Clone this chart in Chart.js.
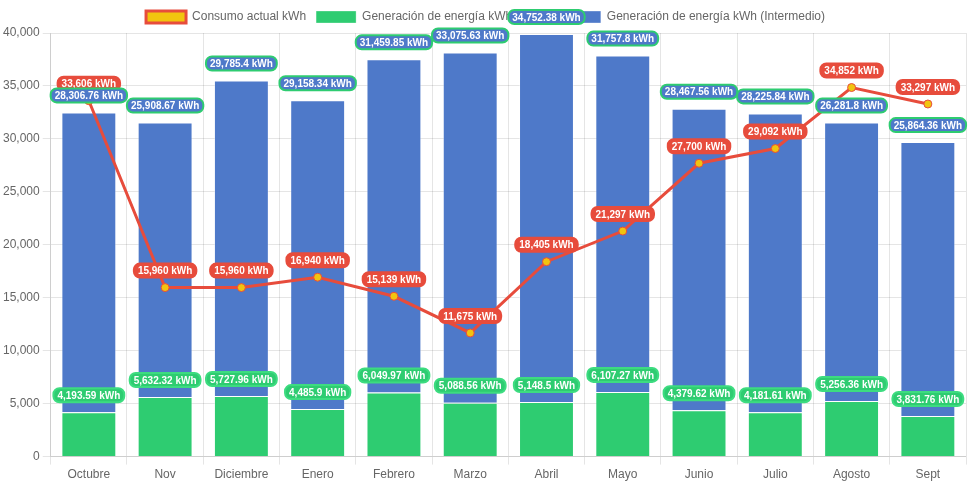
<!DOCTYPE html>
<html lang="es">
<head>
<meta charset="UTF-8">
<title>Consumo y generación de energía</title>
<script src="https://cdn.jsdelivr.net/npm/chart.js@4.4.1/dist/chart.umd.min.js"></script>
<style>
    html, body { margin: 0; padding: 0; background: #ffffff; }
    #contenedor { width: 971px; height: 485px; }
</style>
</head>
<body>
<div id="contenedor"><canvas id="energiaChart"></canvas></div>
<script>
// Datos del gráfico
const meses = ['Octubre', 'Nov', 'Diciembre', 'Enero', 'Febrero', 'Marzo', 'Abril', 'Mayo', 'Junio', 'Julio', 'Agosto', 'Sept'];
const consumoActual = [33606, 15960, 15960, 16940, 15139, 11675, 18405, 21297, 27700, 29092, 34852, 33297];
const generacion = [4193.59, 5632.32, 5727.96, 4485.9, 6049.97, 5088.56, 5148.5, 6107.27, 4379.62, 4181.61, 5256.36, 3831.76];
const generacionIntermedio = [28306.76, 25908.67, 29785.4, 29158.34, 31459.85, 33075.63, 34752.38, 31757.8, 28467.56, 28225.84, 26281.8, 25864.36];

const ROJO = '#e74c3c';
const AMARILLO = '#f1c40f';
const VERDE = '#2ecc71';
const AZUL = '#4e79c9';

const formato = v => v.toLocaleString('en-US', { maximumFractionDigits: 2 }) + ' kWh';

// Etiquetas con fondo redondeado encima de cada valor
const etiquetas = {
    id: 'etiquetas',
    afterDatasetsDraw(chart) {
        const ctx = chart.ctx;
        ctx.save();
        ctx.font = 'bold 10px "Helvetica Neue", Helvetica, Arial, sans-serif';
        ctx.textAlign = 'center';
        ctx.textBaseline = 'middle';
        chart.data.datasets.forEach((ds, i) => {
            const meta = chart.getDatasetMeta(i);
            if (meta.hidden) return;
            meta.data.forEach((el, j) => {
                const texto = formato(ds.data[j]);
                const w = ctx.measureText(texto).width + 8;
                const h = 14;
                const x = el.x - w / 2;
                const y = el.y - 10 - h;
                ctx.beginPath();
                ctx.roundRect(x, y, w, h, 6);
                ctx.fillStyle = ds.etiquetaFondo;
                ctx.fill();
                ctx.lineWidth = 2;
                ctx.strokeStyle = ds.etiquetaBorde;
                ctx.stroke();
                ctx.fillStyle = '#ffffff';
                ctx.fillText(texto, el.x, y + h / 2 + 1);
            });
        });
        ctx.restore();
    }
};

const ctx = document.getElementById('energiaChart').getContext('2d');
new Chart(ctx, {
    type: 'bar',
    data: {
        labels: meses,
        datasets: [{
            type: 'line',
            label: 'Consumo actual kWh',
            data: consumoActual,
            stack: 'consumo',
            borderColor: ROJO,
            backgroundColor: AMARILLO,
            borderWidth: 3,
            tension: 0,
            pointRadius: 4,
            pointBorderWidth: 1,
            pointBackgroundColor: AMARILLO,
            pointBorderColor: ROJO,
            etiquetaFondo: ROJO,
            etiquetaBorde: ROJO
        }, {
            label: 'Generación de energía kWh (Base)',
            data: generacion,
            stack: 'generacion',
            backgroundColor: VERDE,
            borderColor: 'rgba(255, 255, 255, 0.3)',
            borderWidth: 1,
            etiquetaFondo: VERDE,
            etiquetaBorde: '#3ddc80'
        }, {
            label: 'Generación de energía kWh (Intermedio)',
            data: generacionIntermedio,
            stack: 'generacion',
            backgroundColor: AZUL,
            borderColor: 'rgba(255, 255, 255, 0.35)',
            borderWidth: 1,
            etiquetaFondo: AZUL,
            etiquetaBorde: VERDE
        }]
    },
    options: {
        responsive: true,
        maintainAspectRatio: false,
        animation: false,
        layout: { padding: { top: 1 } },
        scales: {
            x: {
                stacked: true,
                ticks: { color: '#666' }
            },
            y: {
                stacked: true,
                beginAtZero: true,
                max: 40000,
                ticks: { stepSize: 5000, color: '#666' }
            }
        },
        plugins: {
            legend: {
                labels: { color: '#666' }
            },
            tooltip: { enabled: false }
        }
    },
    plugins: [etiquetas]
});
</script>
</body>
</html>
